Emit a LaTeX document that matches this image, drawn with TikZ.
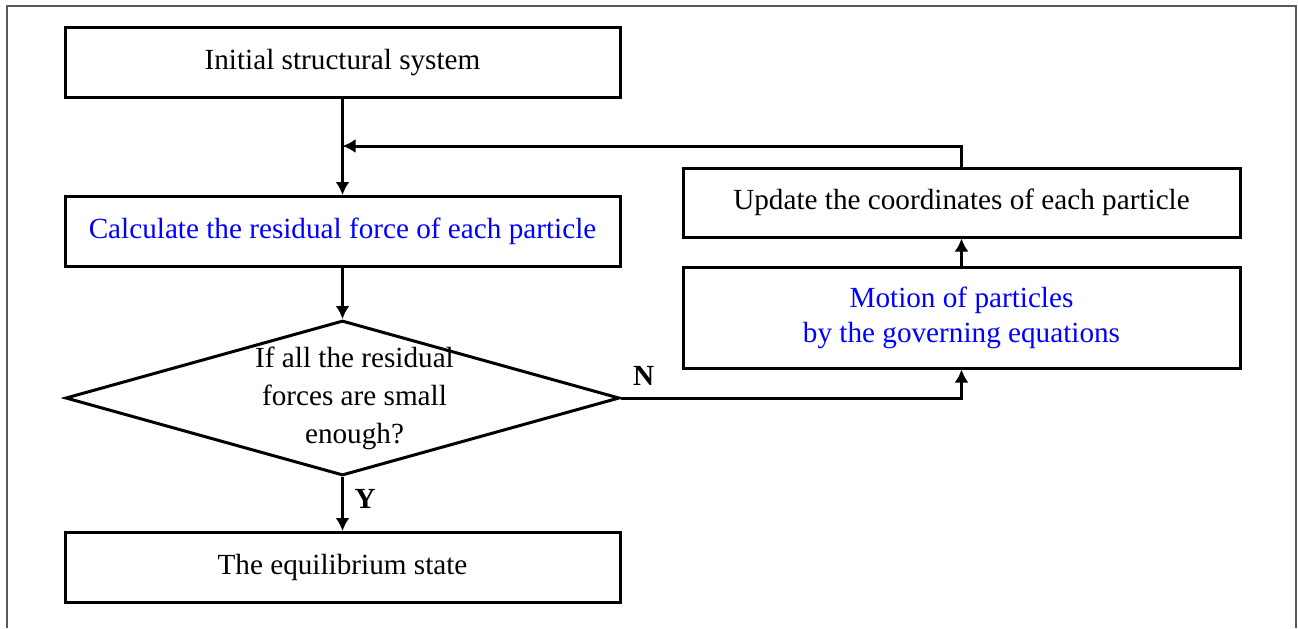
\documentclass[tikz,border=0pt]{standalone}
\usepackage{fontspec}
\setmainfont{Liberation Serif}
\usetikzlibrary{arrows.meta, positioning, shapes.geometric}

\begin{document}
\begin{tikzpicture}[
        x=0.5pt, y=-0.5pt,
        font=\fontsize{14.6}{17.5}\selectfont,
        stepbox/.style={rectangle, draw, line width=1.5pt, minimum width=277.5pt, minimum height=35pt, inner sep=0pt, align=center},
        decision/.style={diamond, draw, line width=1.5pt, minimum width=277pt, minimum height=77.5pt, inner sep=0pt},
        arrow/.style={-{Latex[length=6.5pt, width=7pt]}, line width=1.5pt},
        answer/.style={font=\fontsize{14.6}{17.5}\selectfont\bfseries}
    ]
    \useasboundingbox (0,0) rectangle (1298,628);
    % outer frame
    \draw[black!65, line width=1pt] (7,628) -- (7,6) -- (1296,6) -- (1296,628);

    % main column
    \node (init) [stepbox] at (342.5,62.5) {Initial structural system};
    \node (calc) [stepbox, below=48pt of init, text=blue] {Calculate the residual force of each particle};
    \node (check) [decision, below=25.5pt of calc] {};
    \node (checktext) [align=center, inner sep=0pt, xshift=6pt, font=\fontsize{14.6}{19}\selectfont] at (check.center) {If all the residual\\ forces are small\\ enough?};
    \node (final) [stepbox, below=27pt of check] {The equilibrium state};

    % right column
    \node (update) [stepbox, minimum width=278.5pt, minimum height=34.5pt] at (961.5,202.5) {Update the coordinates of each particle};
    \node (motion) [stepbox, minimum width=278.5pt, minimum height=50.5pt, below=13.5pt of update, text=blue] {Motion of particles\\ by the governing equations};

    \coordinate (join) at (init.south |- 0,146);

    \draw[arrow] (init) -- (calc);
    \draw[arrow] (update.north) |- (join);
    \draw[arrow] (calc) -- (check);
    \draw[arrow] (check.south) -- node[answer, right=2pt, pos=0.4] {Y} (final.north);
    \draw[arrow] (check.east) -| node[answer, above right=2pt and 2pt, pos=0] {N} (motion.south);
    \draw[arrow] (motion) -- (update);
\end{tikzpicture}
\end{document}
